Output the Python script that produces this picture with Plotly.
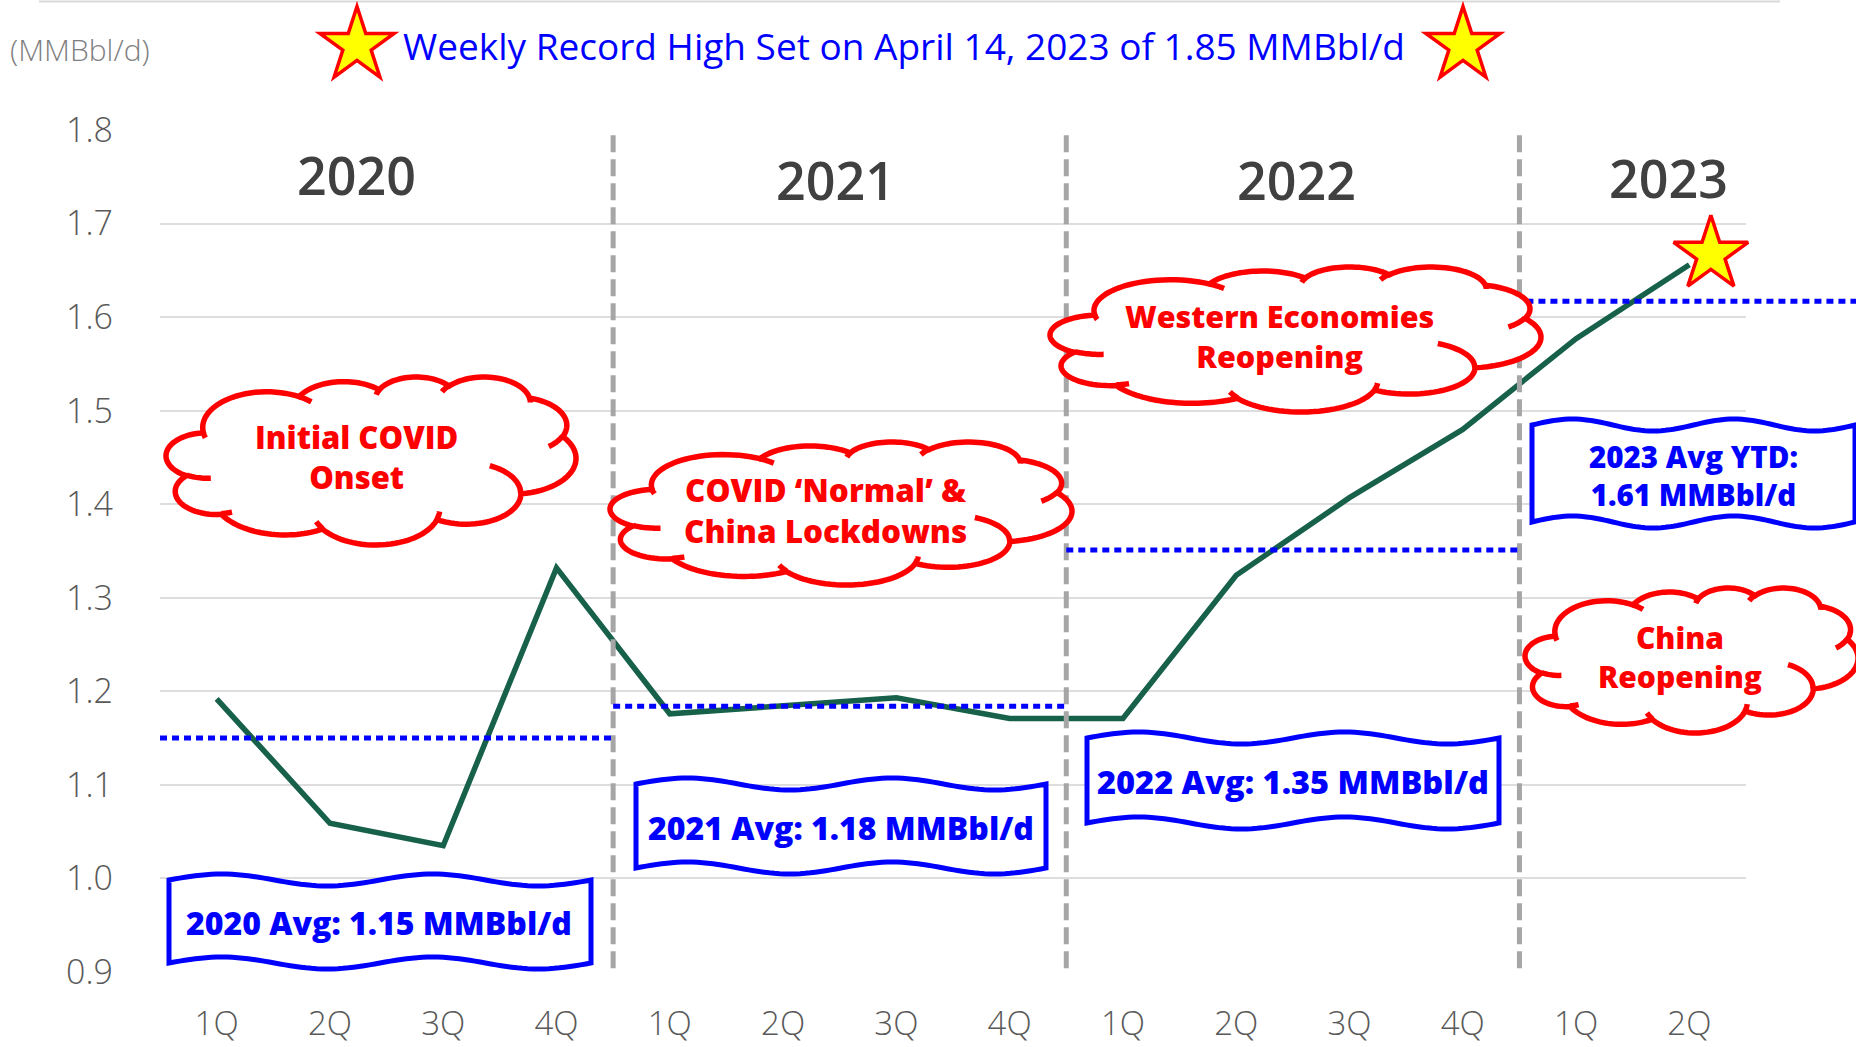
import math
import plotly.graph_objects as go

# ---------------- data ----------------
quarter_labels = ["1Q", "2Q", "3Q", "4Q", "1Q", "2Q", "3Q", "4Q",
                  "1Q", "2Q", "3Q", "4Q", "1Q", "2Q"]
year_labels = ["2020", "2021", "2022", "2023"]
exports_2020 = [1.192, 1.059, 1.035, 1.332]
exports_2021 = [1.176, 1.185, 1.193, 1.171]
exports_2022 = [1.171, 1.324, 1.407, 1.480]
exports_2023 = [1.577, 1.656]
year_avg = [1.150, 1.184, 1.351, 1.617]
record_x = [13.19]
record_y = [1.667]
y_tick_vals = [0.9, 1.0, 1.1, 1.2, 1.3, 1.4, 1.5, 1.6, 1.7, 1.8]
y_tick_text = ["0.9", "1.0", "1.1", "1.2", "1.3", "1.4", "1.5", "1.6", "1.7", "1.8"]
avg_labels = ["2020 Avg: 1.15 MMBbl/d", "2021 Avg: 1.18 MMBbl/d",
              "2022 Avg: 1.35 MMBbl/d", "2023 Avg YTD:<br>1.61 MMBbl/d"]
event_labels = ["Initial COVID<br>Onset", "COVID \u2018Normal\u2019 &<br>China Lockdowns",
                "Western Economies<br>Reopening", "China<br>Reopening"]
title_text = "Weekly Record High Set on April 14, 2023 of 1.85 MMBbl/d"
unit_text = "(MMBbl/d)"

# ---------------- layout geometry ----------------
W, H = 1856, 1047
L, R, T, B = 160, 1746, 130, 972


def px(x):
    return (x - L) / (R - L)


def py(y):
    return (B - y) / (B - T)


def path_str(pts, close=True):
    s = "M " + " L ".join(f"{px(x):.5f},{py(y):.5f}" for x, y in pts)
    return s + (" Z" if close else "")


# PowerPoint-like cloud outline (43200 unit box)
CLOUD_START = (3900, 14370)
CLOUD_ARCS = [(6753, 9190, -11429249, 7426832), (5333, 7267, -8646143, 5396714),
              (4365, 5945, -8748475, 5983381), (4857, 6595, -7859164, 7034504),
              (5333, 7273, -4722533, 6541615), (6775, 9220, -2776035, 7816140),
              (5785, 7867, 37501, 6842000), (6752, 9215, 1347096, 6910353),
              (7720, 10543, 3974558, 4542661), (4360, 5918, -16496525, 8804134),
              (4345, 5945, -14809710, 9151131)]
CLOUD_HOOKS = [((4693, 26177), (4345, 5945, 5204520, 1585770)),
               ((6928, 34899), (4360, 5918, 4416628, 686848)),
               ((16478, 39090), (6752, 9215, 8257449, 844866)),
               ((28827, 34751), (6752, 9215, 387196, 959901)),
               ((34129, 22954), (5785, 7867, -4217541, 4255042)),
               ((41798, 15354), (5333, 7273, 1819082, 1665090)),
               ((38324, 5426), (4857, 6595, -824660, 891534)),
               ((29078, 3952), (4857, 6595, -8950887, 1091722)),
               ((22141, 4720), (4365, 5945, -9809656, 1061181)),
               ((14000, 5192), (6753, 9190, -4002417, 739161)),
               ((4127, 15789), (6753, 9190, 9459261, 711490))]


def arc_pts(start, wR, hR, stAng, swAng, n=36):
    st = math.radians(stAng / 60000.0)
    sw = math.radians(swAng / 60000.0)

    def ept(th):
        t = math.atan2(wR * math.sin(th), hR * math.cos(th))
        return wR * math.cos(t), hR * math.sin(t)
    ex, ey = ept(st)
    cx, cy = start[0] - ex, start[1] - ey
    out = []
    for i in range(n + 1):
        x, y = ept(st + sw * i / n)
        out.append((cx + x, cy + y))
    return out


def cloud_shapes(x0, x1, y0, y1):
    pts = [CLOUD_START]
    cur = CLOUD_START
    for a in CLOUD_ARCS:
        seg = arc_pts(cur, *a)
        pts.extend(seg[1:])
        cur = seg[-1]
    xs = [p[0] for p in pts]
    ys = [p[1] for p in pts]
    mnx, mxx, mny, mxy = min(xs), max(xs), min(ys), max(ys)

    def tr(p):
        return (x0 + (p[0] - mnx) / (mxx - mnx) * (x1 - x0),
                y0 + (p[1] - mny) / (mxy - mny) * (y1 - y0))
    main = path_str([tr(p) for p in pts], True)
    hooks = []
    for st, a in CLOUD_HOOKS:
        seg = arc_pts(st, *a, n=14)
        hooks.append(path_str([tr(p) for p in seg], False))
    return [
        dict(type="path", xref="paper", yref="paper", path=main, fillcolor="white",
             line=dict(color="#FF0000", width=5.5), layer="above"),
        dict(type="path", xref="paper", yref="paper", path=" ".join(hooks),
             fillcolor="rgba(0,0,0,0)", line=dict(color="#FF0000", width=5.5), layer="above"),
    ]


def wave_shape(x0, x1, yt, yb, amp=6.0, n=80):
    top = [(x0 + (x1 - x0) * i / n, yt - amp * math.sin(4 * math.pi * i / n)) for i in range(n + 1)]
    bot = [(x1 - (x1 - x0) * i / n, yb - amp * math.sin(4 * math.pi * (1 - i / n))) for i in range(n + 1)]
    return dict(type="path", xref="paper", yref="paper", path=path_str(top + bot, True),
                fillcolor="white", line=dict(color="#0000FF", width=5), layer="above")


def star_shape(cx, cy, r_out):
    r_in = r_out * 0.382
    pts = []
    for k in range(10):
        ang = math.radians(-90 + 36 * k)
        r = r_out if k % 2 == 0 else r_in
        pts.append((cx + r * math.cos(ang), cy + r * math.sin(ang)))
    return dict(type="path", xref="paper", yref="paper", path=path_str(pts, True),
                fillcolor="#FFFF00", line=dict(color="#FF0000", width=3.5), layer="above")


# ---------------- figure ----------------
x_vals = list(range(len(quarter_labels)))
y_vals = exports_2020 + exports_2021 + exports_2022 + exports_2023

fig = go.Figure()
fig.add_trace(go.Scatter(x=x_vals, y=y_vals, mode="lines",
                         line=dict(color="#17604A", width=5.5), hoverinfo="skip",
                         showlegend=False))

# record star on the chart
fig.add_trace(go.Scatter(x=record_x, y=record_y, mode="markers", cliponaxis=False,
                         marker=dict(symbol="star", size=56, color="#FFFF00",
                                     line=dict(color="#FF0000", width=3.5)),
                         hoverinfo="skip", showlegend=False))

shapes = []
# top border
shapes.append(dict(type="line", xref="paper", yref="paper", x0=px(39), x1=px(1780),
                   y0=py(1.5), y1=py(1.5), line=dict(color="#D9D9D9", width=2), layer="below"))
# year separators
for i in range(1, len(year_labels)):
    xb = 4 * i - 0.5
    shapes.append(dict(type="line", xref="x", yref="y", x0=xb, x1=xb, y0=0.904, y1=1.797,
                       line=dict(color="#A6A6A6", width=5, dash="17px,7px"), layer="above"))
# yearly averages
for i, v in enumerate(year_avg):
    if i < len(year_avg) - 1:
        shapes.append(dict(type="line", xref="x", yref="y", x0=4 * i - 0.5, x1=4 * i + 3.5,
                           y0=v, y1=v, line=dict(color="#0000FF", width=5, dash="7px,5px"),
                           layer="above"))
    else:
        x0p = (4 * i - 0.5 + 0.5) / len(quarter_labels) + 7 / (R - L)
        shapes.append(dict(type="line", xref="paper", yref="y", x0=x0p, x1=px(W + 5),
                           y0=v, y1=v, line=dict(color="#0000FF", width=5, dash="7px,5px"),
                           layer="above"))

# clouds
cloud_boxes = [(166, 576, 377, 545), (610, 1072, 442, 585),
               (1050, 1541, 267, 412), (1525, 1858, 588, 733)]
for b in cloud_boxes:
    shapes.extend(cloud_shapes(*b))
# wave boxes
wave_boxes = [(169, 591, 880, 963), (636, 1046, 784, 868),
              (1087, 1499, 738, 823), (1532, 1855, 425, 522)]
for b in wave_boxes:
    shapes.append(wave_shape(*b))
# title stars
for cx in (357, 1463):
    shapes.append(star_shape(cx, 45.5, 39))

annotations = []


def add_text(text, x, y, size, color, weight="normal", family="Open Sans"):
    annotations.append(dict(text=text, x=px(x), y=py(y), xref="paper", yref="paper",
                            xanchor="center", yanchor="middle", showarrow=False,
                            align="center",
                            font=dict(family=family, size=size, color=color, weight=weight)))


add_text(title_text, 904, 46, 37, "#0000FF")
add_text(unit_text, 80, 50, 30, "#7F7F7F", 300)
year_pos = [(356, 175), (835, 180), (1296, 180), (1668, 178)]
for t, (x, y) in zip(year_labels, year_pos):
    add_text(t, x, y, 52, "#404040", 600)

event_pos = [(356, 457), (825, 510), (1279, 336), (1680, 657)]
event_size = [31, 31.5, 30.5, 30]
for t, (x, y), sz in zip(event_labels, event_pos, event_size):
    add_text(t, x, y, sz, "#FF0000", 800)

avg_pos = [(379, 922), (841, 827), (1293, 781), (1693, 475)]
avg_size = [32, 32, 32.5, 29.5]
for t, (x, y), sz in zip(avg_labels, avg_pos, avg_size):
    add_text(t, x, y, sz, "#0000FF", 800)

fig.update_layout(
    width=W, height=H, autosize=False,
    margin=dict(l=L, r=W - R, t=T, b=H - B, pad=0),
    plot_bgcolor="white", paper_bgcolor="white",
    font=dict(family="Open Sans", color="#595959"),
    shapes=shapes, annotations=annotations, showlegend=False,
    xaxis=dict(range=[-0.5, len(quarter_labels) - 0.5], tickmode="array", tickvals=x_vals,
               ticktext=quarter_labels, showgrid=False, zeroline=False, showline=False,
               ticks="", ticklabelstandoff=29, automargin=False,
               tickfont=dict(family="Open Sans", size=33, color="#595959", weight=300)),
    yaxis=dict(range=[0.9, 1.8], tickmode="array", tickvals=y_tick_vals, ticktext=y_tick_text,
               showgrid=True, gridcolor="#DDDDDD", gridwidth=2, zeroline=False, showline=False,
               ticks="", ticklabelstandoff=46, automargin=False,
               tickfont=dict(family="Open Sans", size=34, color="#595959", weight=300)),
)

fig.write_html("out.html", config={"displayModeBar": False},
               post_script="document.body.style.margin='0';")
